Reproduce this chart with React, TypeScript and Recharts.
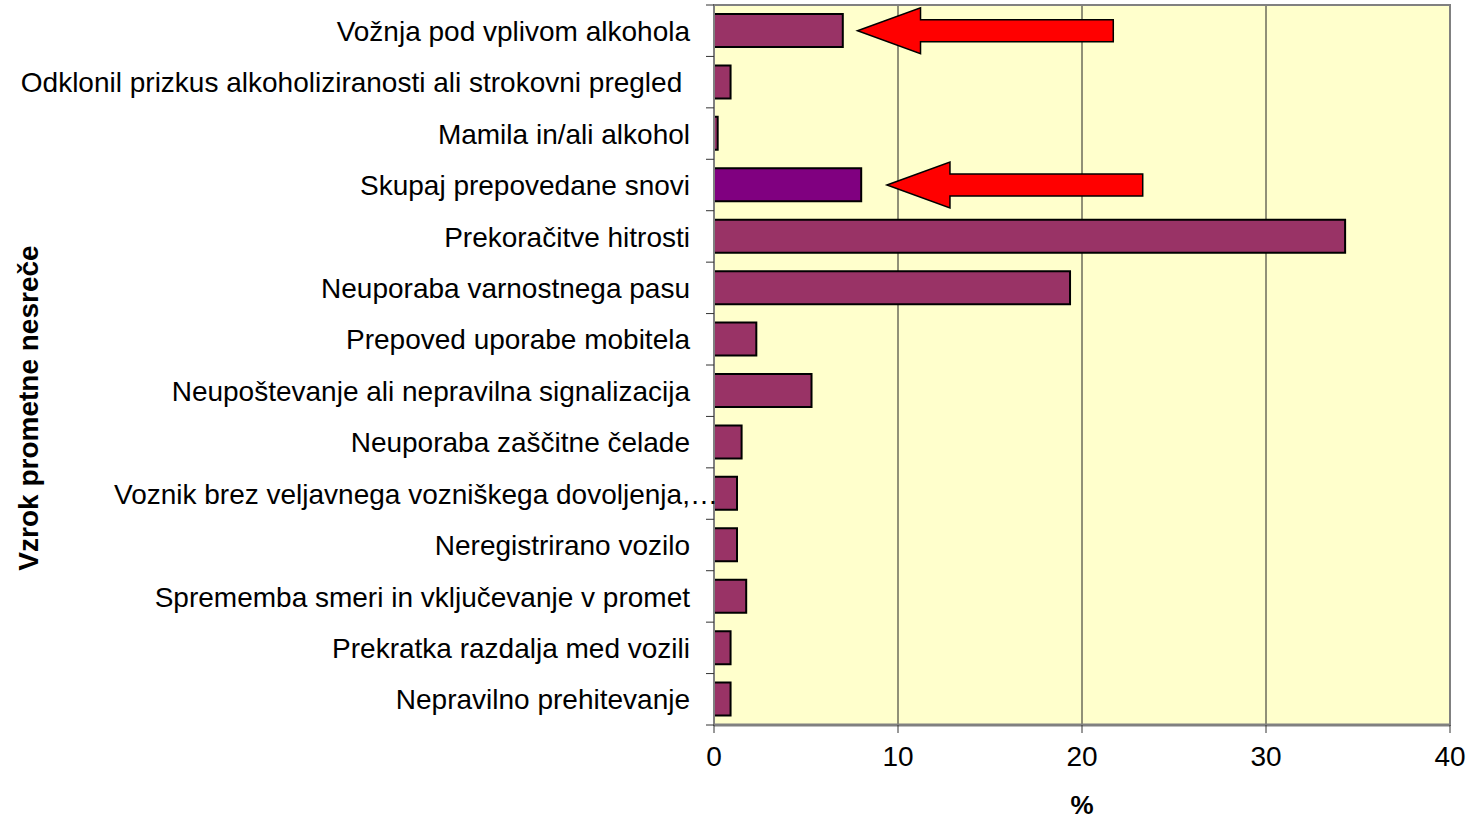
import { BarChart, Bar, XAxis, YAxis, CartesianGrid, Cell, ReferenceArea, Label } from "recharts";

const causes = [
  "Vožnja pod vplivom alkohola",
  "Odklonil prizkus alkoholiziranosti ali strokovni pregled ",
  "Mamila in/ali alkohol",
  "Skupaj prepovedane snovi",
  "Prekoračitve hitrosti",
  "Neuporaba varnostnega pasu",
  "Prepoved uporabe mobitela",
  "Neupoštevanje ali nepravilna signalizacija",
  "Neuporaba zaščitne čelade",
  "Voznik brez veljavnega vozniškega dovoljenja,…",
  "Neregistrirano vozilo",
  "Sprememba smeri in vključevanje v promet",
  "Prekratka razdalja med vozili",
  "Nepravilno prehitevanje",
];
const shares = [7.0, 0.9, 0.2, 8.0, 34.3, 19.35, 2.3, 5.3, 1.5, 1.25, 1.25, 1.75, 0.9, 0.9];
const highlighted = "Skupaj prepovedane snovi";
const xTicks = [0, 10, 20, 30, 40];
// red call-out arrows: tip points at the bar, tail further right
const arrows = [
  { cause: "Vožnja pod vplivom alkohola", tip: 7.8, tail: 21.7 },
  { cause: "Skupaj prepovedane snovi", tip: 9.4, tail: 23.3 },
];

const data = causes.map((name, i) => ({ name, value: shares[i] }));

const W = 1472;
const H = 820;
const TOP = 5;
const X_AXIS_H = 95;
const Y_AXIS_W = 714;
const PLOT_H = H - TOP - X_AXIS_H;
const FONT = "'Liberation Sans', Arial, Helvetica, sans-serif";
const TICK_SIZE = 8;
const TICK_MARGIN = 16;

const CauseTick = ({ x, y, payload, index }: any) => {
  const band = PLOT_H / causes.length;
  const label: string = payload.value;
  const cut = label.endsWith("…");
  const axisX = x + TICK_SIZE + TICK_MARGIN;
  return (
    <g>
      <line x1={axisX - TICK_SIZE} x2={axisX} y1={y - band / 2} y2={y - band / 2} stroke="#333" />
      {index === causes.length - 1 && (
        <line x1={axisX - TICK_SIZE} x2={axisX} y1={y + band / 2} y2={y + band / 2} stroke="#333" />
      )}
      <text
        x={cut ? 114 : x}
        y={y}
        dy="0.36em"
        textAnchor={cut ? "start" : "end"}
        fontSize={28}
        fontFamily={FONT}
        fill="#000"
        style={{ whiteSpace: "pre" }}
      >
        {label}
      </text>
    </g>
  );
};

const Arrow = ({ x, y, width, height }: any) => {
  const cy = y + height / 2;
  const head = 63;
  const headHalf = 23;
  const shaftHalf = 11;
  const right = x + width;
  const pts = [
    [x, cy],
    [x + head, cy - headHalf],
    [x + head, cy - shaftHalf],
    [right, cy - shaftHalf],
    [right, cy + shaftHalf],
    [x + head, cy + shaftHalf],
    [x + head, cy + headHalf],
  ]
    .map(p => p.join(","))
    .join(" ");
  return <polygon points={pts} fill="#FF0000" stroke="#000" strokeWidth={1.5} />;
};

export default function App() {
  return (
    <div style={{ position: "absolute", left: 0, top: 0, fontFamily: FONT }}>
      <BarChart
        width={W}
        height={H}
        data={data}
        layout="vertical"
        margin={{ top: TOP, right: 22, left: 0, bottom: 0 }}
        barSize={33}
      >
        <CartesianGrid horizontal={false} stroke="#222" fill="#FFFFCC" fillOpacity={1} />
        <XAxis
          type="number"
          domain={[0, 40]}
          ticks={xTicks}
          height={X_AXIS_H}
          tickSize={8}
          tickMargin={13}
          tickLine={{ stroke: "#333" }}
          axisLine={{ stroke: "#808080", strokeWidth: 3 }}
          tick={{ fontSize: 28, fill: "#000", fontFamily: FONT }}
        >
          <Label
            value="%"
            position="insideBottom"
            offset={6}
            style={{ fontSize: 26, fontWeight: "bold", fill: "#000", fontFamily: FONT }}
          />
        </XAxis>
        <YAxis
          type="category"
          dataKey="name"
          width={Y_AXIS_W}
          interval={0}
          tickLine={false}
          tickSize={TICK_SIZE}
          tickMargin={TICK_MARGIN}
          axisLine={{ stroke: "#808080", strokeWidth: 2 }}
          tick={<CauseTick />}
        >
          <Label
            content={({ viewBox }: any) => {
              const cy = viewBox.y + viewBox.height / 2 + 43;
              return (
                <text
                  x={28}
                  y={cy}
                  transform={`rotate(-90, 28, ${cy})`}
                  textAnchor="middle"
                  dy="0.36em"
                  fontSize={28}
                  fontWeight="bold"
                  fontFamily={FONT}
                  fill="#000"
                >
                  Vzrok prometne nesreče
                </text>
              );
            }}
          />
        </YAxis>
        <ReferenceArea x1={0} x2={40} fill="none" stroke="#808080" strokeWidth={2} />
        <Bar dataKey="value" stroke="#000" strokeWidth={2} isAnimationActive={false}>
          {data.map(d => (
            <Cell key={d.name} fill={d.name === highlighted ? "#800080" : "#993366"} />
          ))}
        </Bar>
        {arrows.map(a => (
          <ReferenceArea
            key={a.cause}
            x1={a.tip}
            x2={a.tail}
            y1={a.cause}
            y2={a.cause}
            shape={<Arrow />}
          />
        ))}
      </BarChart>
    </div>
  );
}
